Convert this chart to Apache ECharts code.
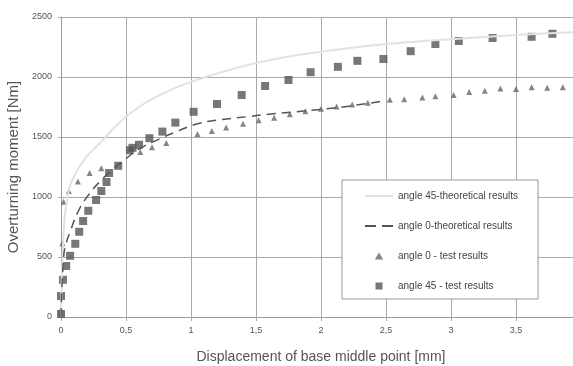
<!DOCTYPE html>
<html>
<head>
<meta charset="utf-8">
<script src="https://cdn.jsdelivr.net/npm/echarts@6/dist/echarts.min.js"></script>
<style>
  html, body { margin: 0; padding: 0; background: #fff; }
  #chart { width: 573px; height: 366px; }
</style>
</head>
<body>
<div id="chart"></div>
<script>
// data: [displacement mm, moment Nm]
const theory45 = [
  [0, 0], [0.02, 700], [0.05, 1000], [0.1, 1170], [0.2, 1340], [0.3, 1450],
  [0.45, 1620], [0.6, 1750], [0.8, 1870], [1.0, 1960], [1.3, 2060],
  [1.6, 2140], [2.0, 2210], [2.5, 2275], [3.0, 2315], [3.5, 2350],
  [4.0, 2375],
];
const theory0 = [
  [0, 0], [0.02, 500], [0.04, 615], [0.07, 710], [0.13, 875], [0.2, 1000],
  [0.3, 1130], [0.4, 1230], [0.5, 1320], [0.6, 1400], [0.75, 1480],
  [0.9, 1550], [1.05, 1610], [1.2, 1640], [1.44, 1670], [1.6, 1690],
  [1.8, 1710], [2.0, 1730], [2.2, 1755], [2.48, 1800],
];
const test0 = [
  [0, 35], [0, 60], [0.01, 615], [0.02, 960], [0.06, 1050], [0.13, 1130],
  [0.22, 1200], [0.31, 1240], [0.61, 1375], [0.7, 1415], [0.81, 1450],
  [1.05, 1525], [1.16, 1550], [1.27, 1580], [1.4, 1610], [1.52, 1640],
  [1.64, 1660], [1.76, 1690], [1.88, 1715], [2.0, 1735], [2.12, 1755],
  [2.24, 1770], [2.36, 1785], [2.53, 1810], [2.64, 1815], [2.78, 1830],
  [2.88, 1840], [3.02, 1850], [3.14, 1875], [3.26, 1885], [3.38, 1905],
  [3.5, 1900], [3.62, 1915], [3.74, 1910], [3.86, 1915],
];
const test45 = [
  [0, 25], [0, 175], [0.015, 310], [0.04, 425], [0.07, 510], [0.11, 610],
  [0.14, 710], [0.17, 800], [0.21, 885], [0.27, 975], [0.31, 1050],
  [0.35, 1125], [0.37, 1200], [0.44, 1260], [0.53, 1390], [0.55, 1410],
  [0.6, 1435], [0.68, 1490], [0.78, 1545], [0.88, 1620], [1.02, 1710],
  [1.2, 1775], [1.39, 1850], [1.57, 1925], [1.75, 1975], [1.92, 2040],
  [2.13, 2085], [2.28, 2135], [2.48, 2150], [2.69, 2215], [2.88, 2275],
  [3.06, 2300], [3.32, 2325], [3.62, 2335], [3.78, 2360],
];
const seriesNames = [
  "angle 45-theoretical results",
  "angle 0-theoretical results",
  "angle 0 - test results",
  "angle 45 - test results",
];

const font = "Liberation Sans, Arial, sans-serif";

const option = {
  backgroundColor: "#fff",
  animation: false,
  grid: { left: 61, top: 17, width: 520, height: 300, outerBoundsMode: "none" },
  legend: {
    data: [
      { name: seriesNames[0], icon: "path://M0,0H28V2H0Z", itemStyle: { color: "#e2e2e2" } },
      { name: seriesNames[1], icon: "path://M0,0H11V2H0Z M17,0H28V2H17Z", itemStyle: { color: "#555" } },
      { name: seriesNames[2], icon: "path://M3,0L6,5H0Z", itemStyle: { color: "#666" } },
      { name: seriesNames[3], icon: "path://M0,0H6V6H0Z", itemStyle: { color: "#555" } },
    ],
    orient: "vertical",
    left: 342,
    top: 180,
    padding: [11, 20, 8, 23],
    itemWidth: 28,
    itemHeight: 7,
    itemGap: 20,
    symbolKeepAspect: true,
    borderColor: "#999",
    borderWidth: 1,
    backgroundColor: "#fff",
    textStyle: { color: "#444", fontSize: 10, fontFamily: font },
  },
  xAxis: {
    type: "value",
    min: 0,
    max: 4,
    interval: 0.5,
    name: "Displacement of base middle point [mm]",
    nameLocation: "middle",
    nameGap: 33,
    nameTextStyle: { color: "#555", fontSize: 14, fontFamily: font },
    axisLine: { lineStyle: { color: "#999" } },
    axisTick: { show: true, length: 4, lineStyle: { color: "#aaa" } },
    axisLabel: {
      color: "#555",
      fontSize: 9,
      fontFamily: font,
      margin: 9,
      formatter: (v) => String(v).replace(".", ","),
    },
    splitLine: { lineStyle: { color: "#aaa" } },
  },
  yAxis: {
    type: "value",
    min: 0,
    max: 2500,
    interval: 500,
    name: "Overturning moment [Nm]",
    nameLocation: "middle",
    nameGap: 36,
    nameTextStyle: { color: "#555", fontSize: 15, fontFamily: font },
    axisLine: { show: true, lineStyle: { color: "#999" } },
    axisTick: { show: true, length: 3, lineStyle: { color: "#aaa" } },
    axisLabel: {
      color: "#555",
      fontSize: 9,
      fontFamily: font,
      margin: 9,
      formatter: (v) => String(v),
    },
    splitLine: { lineStyle: { color: "#aaa" } },
  },
  series: [
    {
      name: seriesNames[0],
      type: "line",
      data: theory45,
      smooth: true,
      showSymbol: false,
      symbol: "none",
      lineStyle: { color: "#e2e2e2", width: 2 },
      itemStyle: { color: "#e2e2e2" },
    },
    {
      name: seriesNames[1],
      type: "line",
      data: theory0,
      smooth: true,
      showSymbol: false,
      symbol: "none",
      lineStyle: { color: "#555", width: 1.5, type: [9, 6] },
      itemStyle: { color: "#555" },
    },
    {
      name: seriesNames[2],
      type: "scatter",
      data: test0,
      symbol: "triangle",
      symbolSize: 6,
      itemStyle: { color: "#666" },
    },
    {
      name: seriesNames[3],
      type: "scatter",
      data: test45,
      symbol: "rect",
      symbolSize: 8,
      itemStyle: { color: "#555" },
    },
  ],
};

const myChart = echarts.init(document.getElementById("chart"));
myChart.setOption(option);
</script>
</body>
</html>
